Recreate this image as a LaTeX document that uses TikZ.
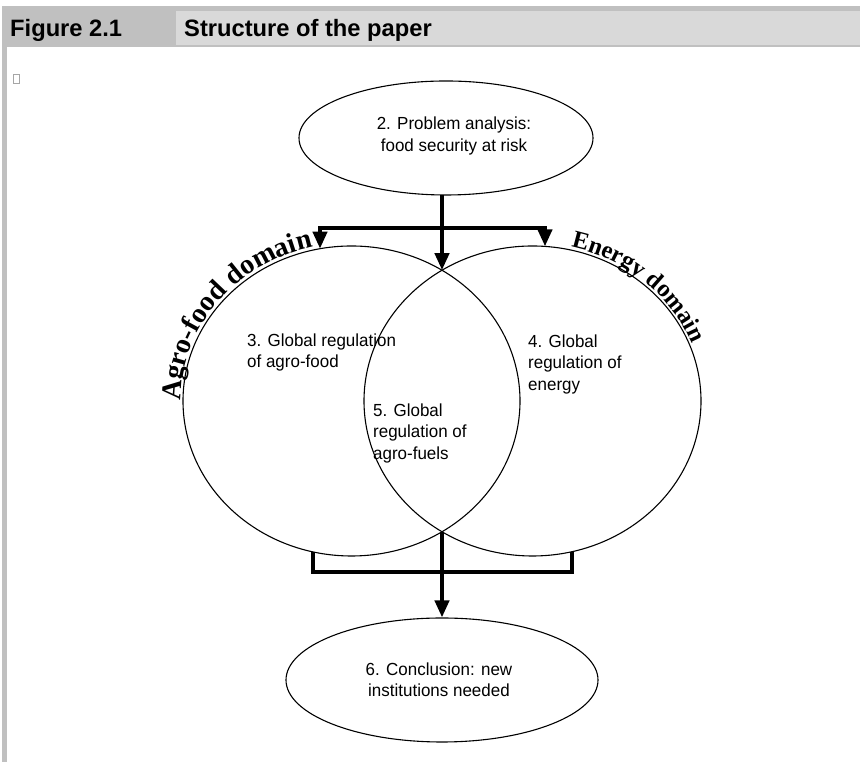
\documentclass[tikz,border=0pt]{standalone}
\usepackage{fontspec}
\setmainfont{Liberation Sans}
\newfontfamily\bodyfont[FakeStretch=0.97]{Liberation Sans}
\newfontfamily\curvefont{Liberation Serif}
\usetikzlibrary{shapes.geometric,arrows.meta,decorations.text}
\definecolor{hdark}{HTML}{C0C0C0}
\definecolor{hlight}{HTML}{D9D9D9}
\begin{document}
\begin{tikzpicture}[x=1pt,y=1pt,
  txt/.style={font=\bodyfont\fontsize{17.5}{21.5}\selectfont, align=left, inner sep=0pt},
  oval/.style={draw, line width=1.1pt, ellipse, inner sep=0pt},
  link/.style={line width=4pt},
  arr/.style={line width=4pt, -{Triangle[width=14pt,length=17pt]}},
  headtxt/.style={anchor=base west, inner sep=0pt, font=\bfseries\fontsize{23.7}{28}\selectfont},
  curve/.style={decorate, decoration={text along path, text format delimiters={|}{|}, text align=left}}]
\useasboundingbox (0,0) rectangle (860,762);
% header and frame
\fill[hdark] (2,715) rectangle (860,756);
\fill[hlight] (176,717) rectangle (860,751);
\fill[hdark] (2,0) rectangle (7,715);
\node[headtxt] (fig) at (10,725) {Figure 2.1};
\node[headtxt] (ttl) at (184,725) {Structure of the paper};
\draw[gray!70, line width=0.6pt] (13,688) rectangle (19,679);
% shapes
\node[oval, minimum width=294pt, minimum height=114pt] (prob) at (446,624) {};
\node[txt, align=center] (probtxt) at (454,626) {2. Problem analysis:\\food security at risk};
\node[oval, minimum width=337pt, minimum height=310pt] (agro) at (351.5,361) {};
\node[oval, minimum width=337pt, minimum height=310pt] (energy) at (532.5,361) {};
\node[oval, minimum width=312pt, minimum height=124pt] (concl) at (442,82) {};
\node[txt, align=center] (concltxt) at (439,82) {6. Conclusion: new\\institutions needed};
% labels
\node[txt, anchor=north west] (t3) at (247,428.5) {3. Global regulation\\of agro-food};
\node[txt, anchor=north west] (t4) at (528,427.5) {4. Global\\regulation of\\energy};
\node[txt, anchor=north west] (t5) at (373,358.5) {5. Global\\regulation of\\agro-fuels};
% curved domain names
\path[curve, decoration={text={|\curvefont\bfseries\fontsize{28}{28}\selectfont|Agro-food domain}}]
  (agro.center) ++(180:171 and 158) arc[start angle=180, end angle=70, x radius=171, y radius=158];
\path[curve, decoration={text={|\curvefont\bfseries\fontsize{24.5}{25}\selectfont|Energy domain}}]
  (energy.center) ++(77:171 and 158) arc[start angle=77, end angle=-20, x radius=171, y radius=158];
% connectors
\coordinate (stem) at (442,567);
\coordinate (split) at (442,534);
\coordinate (tipL) at (320,513.3);
\coordinate (tipR) at (545,515.6);
\coordinate (itop) at (442,491.8);
\coordinate (ibot) at (442,230.2);
\coordinate (footL) at (313,210);
\coordinate (footR) at (572,210);
\coordinate (merge) at (442,190);
\draw[link] (stem) -- (split);
\draw[arr] (split) -| (tipL);
\draw[arr] (split) -| (tipR);
\draw[arr] (split) -- (itop);
\draw[link] (footL) |- (merge) -| (footR);
\draw[arr] (ibot) -- (concl.north);
\end{tikzpicture}
\end{document}
